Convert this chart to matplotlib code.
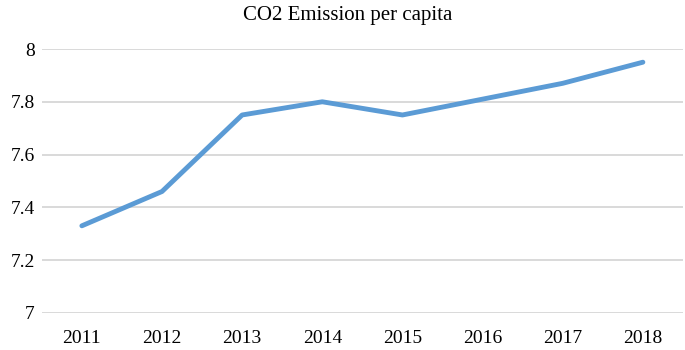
import matplotlib.pyplot as plt

years = ['2011', '2012', '2013', '2014', '2015', '2016', '2017', '2018']
emission = [7.33, 7.46, 7.75, 7.80, 7.75, 7.81, 7.87, 7.95]
y_ticks = [7.0, 7.2, 7.4, 7.6, 7.8, 8.0]
y_labels = ['7', '7.2', '7.4', '7.6', '7.8', '8']

plt.rcParams['font.family'] = ['Liberation Serif', 'DejaVu Serif']

fig = plt.figure(figsize=(6.85, 3.5), dpi=100)
ax = fig.add_axes([0.061, 0.106, 0.936, 0.754])

x = range(len(years))
ax.plot(x, emission, color='#5B9BD5', linewidth=3.5, solid_capstyle='round', zorder=3)

ax.set_xlim(-0.5, len(years) - 0.5)
ax.set_ylim(7, 8)
ax.set_xticks(list(x))
ax.set_xticklabels(years, fontsize=14)
ax.set_yticks(y_ticks)
ax.set_yticklabels(y_labels, fontsize=14)
ax.tick_params(axis='x', length=0, pad=12)
ax.tick_params(axis='y', length=0, pad=5)

ax.grid(axis='y', color='#D9D9D9', linewidth=1.4)
ax.set_axisbelow(True)
for s in ax.spines.values():
    s.set_visible(False)

fig.text(0.507, 0.955, 'CO2 Emission per capita', ha='center', va='center', fontsize=15)

fig.savefig('out.png', dpi=100)
